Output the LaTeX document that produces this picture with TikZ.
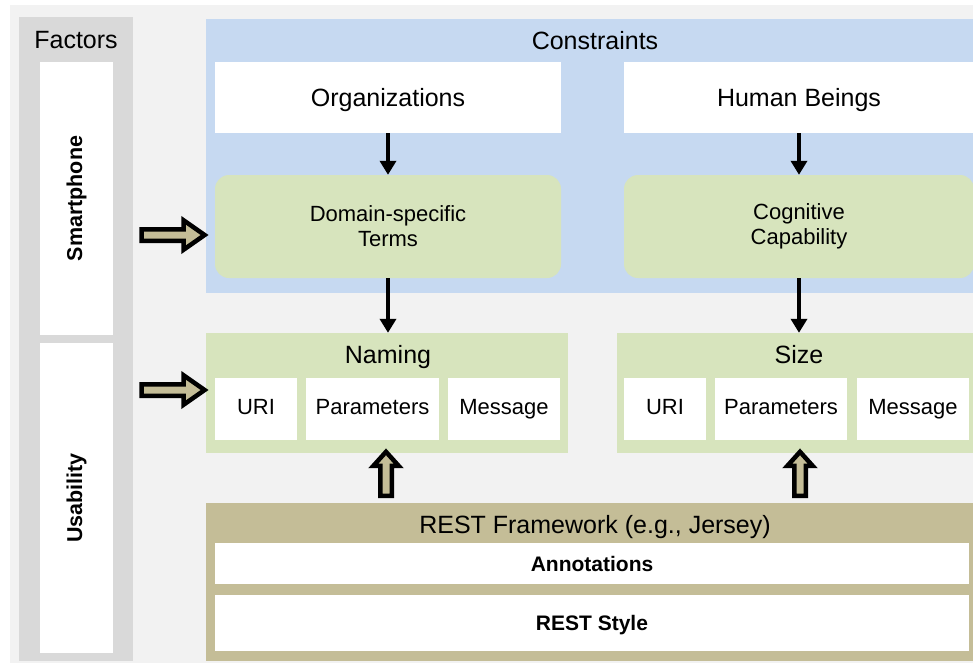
\documentclass[tikz,border=0pt]{standalone}
\usepackage{fontspec}
\setmainfont{Liberation Sans}
\usepackage{tikz}
\usetikzlibrary{shapes.arrows, arrows.meta, positioning, calc}
\definecolor{bgGray}{RGB}{242,242,242}
\definecolor{factorGray}{RGB}{217,217,217}
\definecolor{constrBlue}{RGB}{198,217,241}
\definecolor{termGreen}{RGB}{215,228,189}
\definecolor{restTan}{RGB}{196,189,151}

\begin{document}
\begin{tikzpicture}[
    x=1pt, y=-1pt,
    panel/.style={
        rectangle,
        fill=#1,
        draw=none,
        inner sep=0pt
    },
    box/.style={
        rectangle,
        fill=white,
        inner sep=0pt,
        text height=15.75pt,
        text depth=5.5pt,
        font=\fontsize{22}{26}\selectfont
    },
    title/.style={
        inner sep=0pt,
        text height=17.9pt,
        text depth=0pt,
        font=\fontsize{25}{30}\selectfont
    },
    factor/.style={
        rectangle,
        fill=white,
        inner sep=0pt,
        rotate=90,
        font=\fontsize{21.5}{26}\selectfont\bfseries
    },
    term/.style={
        rectangle,
        fill=termGreen,
        rounded corners=14pt,
        align=center,
        inner sep=0pt,
        font=\fontsize{22}{25}\selectfont
    },
    flow/.style={-{Triangle[width=16pt,length=14pt]}, line width=4pt, black},
    fatarrow/.style={
        single arrow,
        draw=black,
        fill=restTan,
        line width=4.5pt,
        inner sep=3.5pt,
        minimum width=0pt
    }
]
    \useasboundingbox (0,0) rectangle (973,662);
    \clip (0,0) rectangle (973,662);
    \fill[bgGray] (10,5) rectangle (990,670);

    % Factors column
    \node[panel=factorGray, minimum width=114, minimum height=644] (factors) at (76,339) {};
    \node[title] (factorsTitle) at (76,40) {Factors};
    \node[factor, minimum width=273, minimum height=73] (smart) at (76.5,198.5) {Smartphone};
    \node[factor, minimum width=310, minimum height=73] (usab) at (76.5,498) {Usability};

    % Constraints
    \node[panel=constrBlue, minimum width=779, minimum height=274] (constr) at (595.5,156) {};
    \node[title] (constrTitle) at (595,41) {Constraints};
    \node[box, text height=17.9pt, text depth=0pt, font=\fontsize{25}{30}\selectfont, minimum width=346, minimum height=71] (org) at (388,97.5) {Organizations};
    \node[box, text height=17.9pt, text depth=0pt, font=\fontsize{25}{30}\selectfont, minimum width=350, minimum height=71] (human) at (799,97.5) {Human Beings};
    \node[term, minimum width=346, minimum height=103] (domain) at (388,226.5) {Domain-specific\\Terms};
    \node[term, minimum width=350, minimum height=103] (cogn) at (799,226.5) {Cognitive\\Capability};

    % Naming and Size
    \node[panel=termGreen, minimum width=362, minimum height=120] (naming) at (387,393) {};
    \node[title] (namingTitle) at (388,355) {Naming};
    \node[box, minimum width=82, minimum height=62] (nuri) at (256,409) {URI};
    \node[box, minimum width=133, minimum height=62] (nparam) at (372.5,409) {Parameters};
    \node[box, minimum width=112, minimum height=62] (nmsg) at (504,409) {Message};

    \node[panel=termGreen, minimum width=364, minimum height=120] (size) at (799,393) {};
    \node[title] (sizeTitle) at (799,355) {Size};
    \node[box, minimum width=82, minimum height=62] (suri) at (665,409) {URI};
    \node[box, minimum width=132, minimum height=62] (sparam) at (781,409) {Parameters};
    \node[box, minimum width=112, minimum height=62] (smsg) at (913,409) {Message};

    % REST framework
    \node[panel=restTan, minimum width=778, minimum height=158] (rest) at (595,582) {};
    \node[title] (restTitle) at (595,525) {REST Framework (e.g., Jersey)};
    \node[box, text height=15pt, text depth=0pt, font=\fontsize{21}{25}\selectfont\bfseries, minimum width=754, minimum height=41] (annot) at (592,563.5) {Annotations};
    \node[box, text height=15pt, text depth=0pt, font=\fontsize{21}{25}\selectfont\bfseries, minimum width=754, minimum height=56] (style) at (592,623) {REST Style};

    % Connections
    \draw[flow] (org) -- (domain);
    \draw[flow] (human) -- (cogn);
    \draw[flow] (domain.south) -- (domain.south |- naming.north);
    \draw[flow] (cogn) -- (size);

    % Fat arrows
    \node[fatarrow, minimum height=63, single arrow head extend=9pt, single arrow tip angle=70] (smartArrow) at (169,235) {};
    \node[fatarrow, minimum height=63, single arrow head extend=9pt, single arrow tip angle=70] (usabArrow) at (169,390) {};
    \node[fatarrow, rotate=90, minimum height=44, single arrow head extend=7pt, single arrow tip angle=84] (namingArrow) at (386,477) {};
    \node[fatarrow, rotate=90, minimum height=44, single arrow head extend=7pt, single arrow tip angle=84] (sizeArrow) at (800,477) {};

\end{tikzpicture}
\end{document}
